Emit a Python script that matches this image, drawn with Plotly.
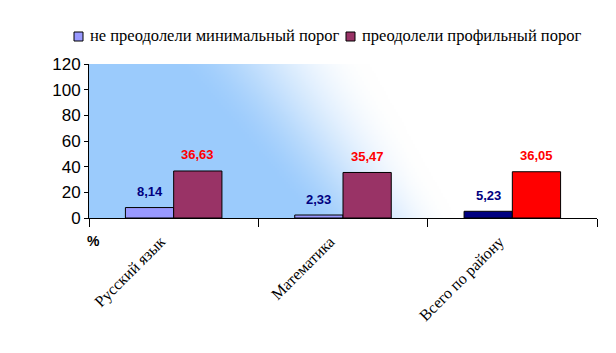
import zlib, struct, base64
import plotly.graph_objects as go

categories = ["Русский язык", "Математика", "Всего по району"]
below_min = [8.14, 2.33, 5.23]
above_profile = [36.63, 35.47, 36.05]
series_names = ["не преодолели минимальный порог", "преодолели профильный порог"]
below_colors = ["#9999FF", "#9999FF", "#000080"]
above_colors = ["#993366", "#993366", "#FF0000"]
y_ticks = [0, 20, 40, 60, 80, 100, 120]

W, H = 616, 353
ML, MR, MT, MB = 89, 19, 64, 135
BARGAP = 0.43
SERIF = "Liberation Serif"
SANS = "Liberation Sans"


def gradient_png(w, h):
    rows = b""
    blue = (155, 203, 252)
    for j in range(h):
        py = j / (h - 1)
        row = b"\x00"
        start = 0.16 + 0.26 * py
        width = 0.39 - 0.09 * py
        for i in range(w):
            px = i / (w - 1)
            t = (px - start) / width
            t = max(0.0, min(1.0, t))
            t = t * t * (3 - 2 * t)
            row += bytes(int(c + (255 - c) * t) for c in blue)
        rows += row

    def chunk(tag, data):
        c = struct.pack(">I", len(data)) + tag + data
        return c + struct.pack(">I", zlib.crc32(tag + data) & 0xFFFFFFFF)

    png = b"\x89PNG\r\n\x1a\n"
    png += chunk(b"IHDR", struct.pack(">IIBBBBB", w, h, 8, 2, 0, 0, 0))
    png += chunk(b"IDAT", zlib.compress(rows, 9))
    png += chunk(b"IEND", b"")
    return "data:image/png;base64," + base64.b64encode(png).decode()


fig = go.Figure()
fig.add_trace(go.Bar(x=categories, y=below_min, name=series_names[0],
                     marker=dict(color=below_colors, line=dict(color="black", width=1))))
fig.add_trace(go.Bar(x=categories, y=above_profile, name=series_names[1],
                     marker=dict(color=above_colors, line=dict(color="black", width=1))))

plot_w = W - ML - MR
plot_h = H - MT - MB
cat_w = plot_w / len(categories)
bar_w = cat_w * (1 - BARGAP) / 2


def px_x(p):
    return (p - ML) / plot_w


def px_y(p):
    return (H - MB - p) / plot_h


def fmt(v):
    return f"{v:.2f}".replace(".", ",")


annotations = []
for c, v in zip(categories, below_min):
    annotations.append(dict(x=c, y=v, xref="x", yref="y", text=fmt(v), showarrow=False,
                            xshift=-bar_w / 2, yshift=16, yanchor="middle",
                            font=dict(family=SANS, size=13, color="#000080", weight="bold")))
for c, v in zip(categories, above_profile):
    annotations.append(dict(x=c, y=v, xref="x", yref="y", text=fmt(v), showarrow=False,
                            xshift=bar_w / 2, yshift=16, yanchor="middle",
                            font=dict(family=SANS, size=13, color="#FF0000", weight="bold")))
annotations.append(dict(x=0, y=0, xref="paper", yref="paper", text="%", showarrow=False,
                        xanchor="left", yanchor="middle", xshift=-4, yshift=-23,
                        font=dict(family=SANS, size=14, color="black", weight="bold")))

# custom legend (symbol squares + labels)
shapes = []
leg_items = [(74, 88, series_names[0], below_colors[0]), (346, 360, series_names[1], above_colors[0])]
for sx, tx, name, col in leg_items:
    shapes.append(dict(type="rect", xref="paper", yref="paper",
                       x0=px_x(sx), x1=px_x(sx + 9), y0=px_y(41), y1=px_y(32),
                       fillcolor=col, line=dict(color="black", width=1)))
    annotations.append(dict(x=px_x(tx), y=px_y(36), xref="paper", yref="paper", text=name,
                            showarrow=False, xanchor="left", yanchor="middle",
                            font=dict(family=SERIF, size=16.5, color="black")))

fig.update_layout(
    width=W, height=H,
    margin=dict(l=ML, r=MR, t=MT, b=MB, pad=0),
    paper_bgcolor="white",
    plot_bgcolor="rgba(0,0,0,0)",
    barmode="group",
    bargap=BARGAP,
    bargroupgap=0,
    showlegend=False,
    annotations=annotations,
    shapes=shapes,
    images=[dict(source=gradient_png(256, 78), xref="paper", yref="paper", x=0, y=1,
                 sizex=1, sizey=1, sizing="stretch", xanchor="left", yanchor="top", layer="below")],
    xaxis=dict(showline=True, linecolor="black", linewidth=1, ticks="outside",
               tickson="boundaries", ticklen=8, tickcolor="black", tickangle=-45,
               ticklabelshift=-13, ticklabelstandoff=7,
               tickfont=dict(family=SERIF, size=16, color="black"),
               showgrid=False, zeroline=False),
    yaxis=dict(range=[0, 120], tickvals=y_ticks, ticks="outside", ticklen=4, tickcolor="black",
               showline=True, linecolor="black", linewidth=1, showgrid=False, zeroline=False,
               tickfont=dict(family=SANS, size=17, color="black")),
)

fig.write_html("out.html")
